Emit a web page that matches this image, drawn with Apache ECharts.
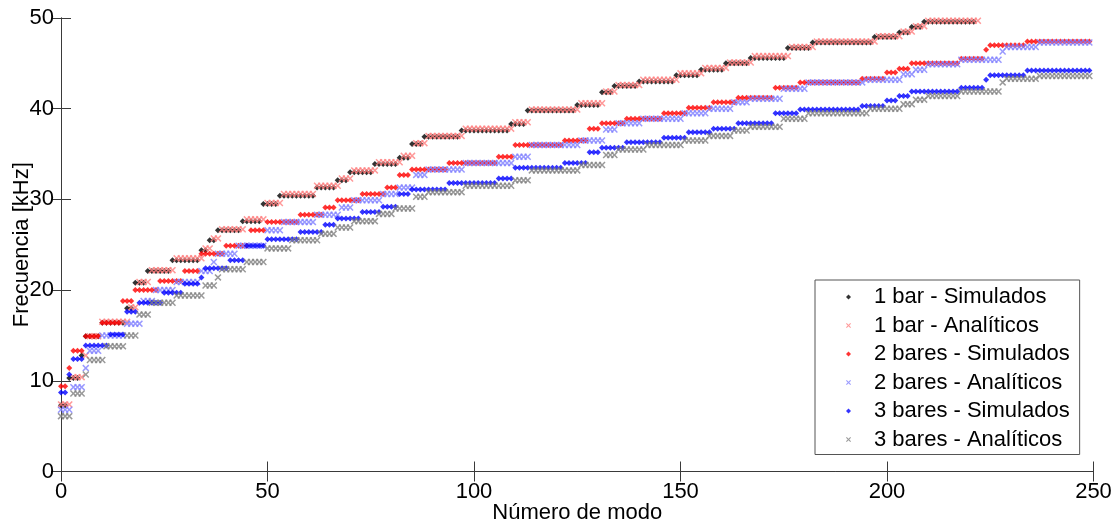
<!DOCTYPE html>
<html>
<head>
<meta charset="utf-8">
<script src="https://cdn.jsdelivr.net/npm/echarts@6/dist/echarts.min.js"></script>
<style>
html,body{margin:0;padding:0;background:#fff;}
#chart{width:1116px;height:524px;}
</style>
</head>
<body>
<div id="chart"></div>
<script>
// Tick labels
const xTicks = [0, 50, 100, 150, 200, 250];
const yTicks = [0, 10, 20, 30, 40, 50];

// Each series is a staircase: first mode of each plateau and its frequency [kHz]
// 1 bar - Simulados
const bar1SimStart = [0,2,5,6,10,16,18,21,27,34,36,38,44,49,53,62,67,70,76,82,85,88,97,109,113,125,131,134,140,149,155,161,167,176,182,197,203,206,209];
const bar1SimFreq  = [7.3,10.3,12.8,14.9,16.4,18.0,20.8,22.1,23.3,24.4,25.5,26.6,27.6,29.5,30.4,31.3,32.1,33.0,33.9,34.6,36.1,36.9,37.6,38.3,39.8,40.4,41.8,42.5,43.0,43.7,44.3,45.0,45.6,46.7,47.3,47.9,48.4,49.0,49.6];
const bar1SimLast  = 221;

// 1 bar - Analíticos
const bar1AnaStart = [0,3,6,7,10,17,19,22,28,35,37,39,45,50,54,62,68,71,77,83,86,89,98,110,114,126,132,135,141,150,156,162,168,177,183,198,204,207,210];
const bar1AnaFreq  = [7.4,10.4,12.8,14.9,16.5,18.1,20.9,22.2,23.5,24.6,25.7,26.7,27.8,29.6,30.6,31.5,32.3,33.2,34.1,34.8,36.2,37.0,37.8,38.5,39.9,40.6,41.9,42.6,43.2,43.9,44.5,45.1,45.8,46.8,47.4,48.0,48.5,49.1,49.7];
const bar1AnaLast  = 222;

// 2 bares - Simulados
const bar2SimStart = [0,2,3,6,10,15,18,24,30,34,40,46,50,58,64,67,73,79,82,85,94,106,110,122,128,131,137,146,152,158,164,173,179,194,200,203,206,218,224,225,234];
const bar2SimFreq  = [9.4,11.4,13.3,14.9,16.4,18.8,20.0,21.0,22.1,24.0,24.9,26.6,27.5,28.3,29.1,29.9,30.6,31.3,32.7,33.3,34.0,34.7,36.0,36.5,37.8,38.4,38.9,39.5,40.1,40.7,41.2,42.3,42.9,43.3,44.0,44.4,45.0,45.5,46.5,47.0,47.4];
const bar2SimLast  = 249;

// 2 bares - Analíticos
const bar2AnaStart = [0,3,6,7,10,16,20,23,28,34,37,38,43,50,54,62,68,71,78,82,86,89,98,110,114,126,132,135,141,151,157,163,167,175,181,195,204,207,210,218,228,229,237];
const bar2AnaFreq  = [6.8,9.3,11.4,13.3,15.0,16.3,18.8,20.0,20.9,22.1,23.1,24.0,24.9,26.6,27.5,28.3,29.1,29.9,30.6,31.3,32.7,33.3,34.0,34.7,36.0,36.5,37.7,38.4,38.9,39.5,40.0,40.7,41.1,42.2,42.9,43.2,43.8,44.3,44.9,45.4,46.3,46.8,47.3];
const bar2AnaLast  = 249;

// 3 bares - Simulados
const bar3SimStart = [0,2,3,6,12,16,19,25,30,34,35,41,45,50,58,64,67,73,78,82,85,94,106,110,122,128,131,137,146,152,158,164,173,179,194,200,203,206,218,224,225,234];
const bar3SimFreq  = [8.7,10.7,12.4,13.9,15.1,17.6,18.6,19.7,20.7,21.4,22.4,23.3,24.9,25.6,26.4,27.2,27.9,28.6,29.2,30.6,31.1,31.8,32.3,33.5,34.0,35.2,35.7,36.3,36.8,37.4,37.8,38.4,39.5,39.9,40.3,40.9,41.4,41.9,42.3,43.2,43.7,44.2];
const bar3SimLast  = 249;

// 3 bares - Analíticos
const bar3AnaStart = [0,3,6,7,11,16,19,22,28,35,38,39,45,50,56,63,67,71,77,81,86,89,98,110,114,126,132,135,142,151,157,163,167,175,181,196,204,207,210,218,228,229,237];
const bar3AnaFreq  = [6.1,8.6,10.7,12.3,13.8,15.0,17.3,18.6,19.4,20.5,21.4,22.3,23.1,24.6,25.5,26.2,26.9,27.6,28.4,29.0,30.3,30.8,31.5,32.1,33.2,33.8,34.9,35.5,36.0,36.5,37.0,37.6,38.0,38.9,39.5,40.0,40.5,41.0,41.4,41.9,42.9,43.3,43.6];
const bar3AnaLast  = 249;

const seriesNames = ['1 bar - Simulados','1 bar - Analíticos','2 bares - Simulados','2 bares - Analíticos','3 bares - Simulados','3 bares - Analíticos'];

function steps(start, freq, last) {
  const out = [];
  for (let i = 0; i < start.length; i++) {
    const end = (i + 1 < start.length) ? start[i + 1] - 1 : last;
    for (let m = start[i]; m <= end; m++) out.push([m, freq[i]]);
  }
  return out;
}

const FONT = "'Liberation Sans', Arial, sans-serif";
const XPATH = 'path://M0,1.5L1.5,0L5,3.5L8.5,0L10,1.5L6.5,5L10,8.5L8.5,10L5,6.5L1.5,10L0,8.5L3.5,5Z';
const AX = '#3a3a3a';

function sim(name, color, data) {
  return { name, type: 'scatter', data, symbol: 'diamond', symbolSize: 6,
           itemStyle: { color }, xAxisIndex: 0, yAxisIndex: 0, animation: false };
}
function ana(name, color, data) {
  return { name, type: 'scatter', data, symbol: XPATH, symbolSize: 7,
           itemStyle: { color }, xAxisIndex: 0, yAxisIndex: 0, animation: false };
}

const chart = echarts.init(document.getElementById('chart'), null, { renderer: 'canvas' });
const xMin = xTicks[0], xMax = xTicks[xTicks.length - 1], xInt = xTicks[1] - xTicks[0];
const yMin = yTicks[0], yMax = yTicks[yTicks.length - 1], yInt = yTicks[1] - yTicks[0];

const baseX = { type: 'value', min: xMin, max: xMax, interval: xInt,
  axisLine: { show: true, lineStyle: { color: AX, width: 1 } },
  axisTick: { show: true, inside: true, length: 10, lineStyle: { color: AX } },
  splitLine: { show: false } };
const baseY = { type: 'value', min: yMin, max: yMax, interval: yInt,
  axisLine: { show: true, lineStyle: { color: AX, width: 1 } },
  axisTick: { show: true, inside: true, length: 10, lineStyle: { color: AX } },
  splitLine: { show: false } };

chart.setOption({
  backgroundColor: '#fff',
  animation: false,
  grid: { left: 61, right: 22.5, top: 18, bottom: 52.5, containLabel: false, outerBoundsMode: 'none' },
  xAxis: [
    Object.assign({}, baseX, { position: 'bottom',
      name: 'Número de modo', nameLocation: 'middle', nameGap: 30, nameMoveOverlap: false,
      nameTextStyle: { fontFamily: FONT, fontSize: 22, color: '#000' },
      axisLabel: { show: true, margin: 9, fontFamily: FONT, fontSize: 22, color: '#000',
        formatter: v => xTicks.includes(v) ? String(v) : '' } }),
    Object.assign({}, baseX, { position: 'top', axisLabel: { show: false } })
  ],
  yAxis: [
    Object.assign({}, baseY, { position: 'left',
      name: 'Frecuencia [kHz]', nameLocation: 'middle', nameGap: 28, nameRotate: 90, nameMoveOverlap: false,
      nameTextStyle: { fontFamily: FONT, fontSize: 22, color: '#000' },
      axisLabel: { show: true, margin: 7, fontFamily: FONT, fontSize: 22, color: '#000',
        formatter: v => yTicks.includes(v) ? String(v) : '' } }),
    Object.assign({}, baseY, { position: 'right', axisLabel: { show: false } })
  ],
  legend: {
    data: seriesNames,
    orient: 'vertical', left: 815, top: 280,
    padding: [6, 10, 4, 31], itemGap: 6.5, itemWidth: 5, itemHeight: 5,
    backgroundColor: '#fff', borderColor: '#555', borderWidth: 1,
    textStyle: { fontFamily: FONT, fontSize: 22, lineHeight: 22, color: '#000', padding: [0, 0, 0, 18] },
    selectedMode: false
  },
  series: [
    sim(seriesNames[0], '#000000', steps(bar1SimStart, bar1SimFreq, bar1SimLast)),
    ana(seriesNames[1], '#ff7f7f', steps(bar1AnaStart, bar1AnaFreq, bar1AnaLast)),
    sim(seriesNames[2], '#ff0000', steps(bar2SimStart, bar2SimFreq, bar2SimLast)),
    ana(seriesNames[3], '#7f7fff', steps(bar2AnaStart, bar2AnaFreq, bar2AnaLast)),
    sim(seriesNames[4], '#0000ff', steps(bar3SimStart, bar3SimFreq, bar3SimLast)),
    ana(seriesNames[5], '#7f7f7f', steps(bar3AnaStart, bar3AnaFreq, bar3AnaLast))
  ]
});
</script>
</body>
</html>
